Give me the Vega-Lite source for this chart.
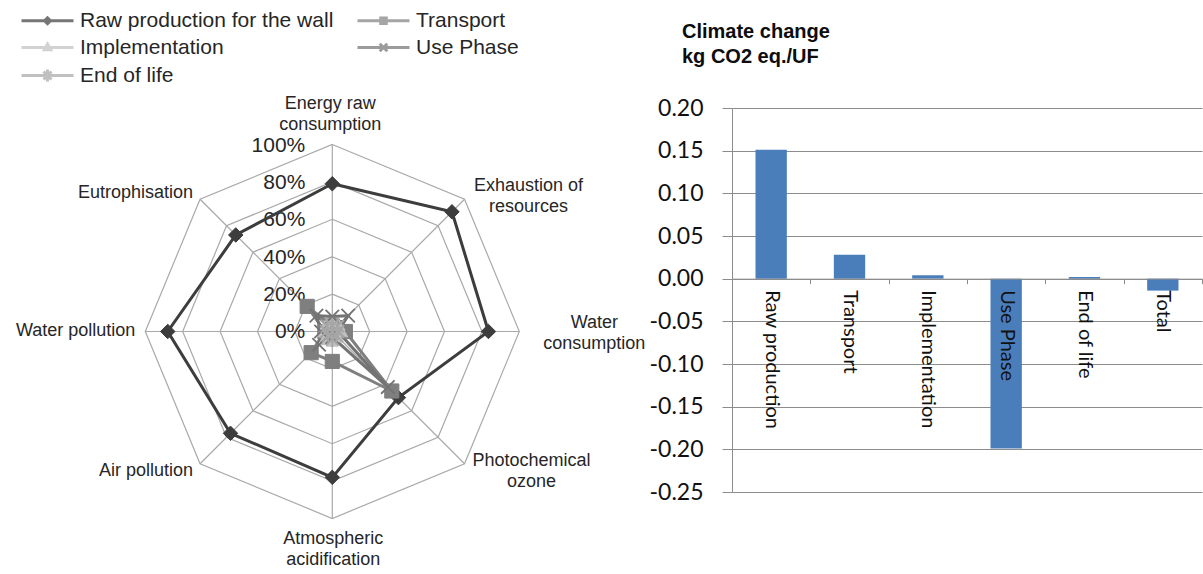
{
  "$schema": "https://vega.github.io/schema/vega-lite/v6.json",
  "background": "white",
  "padding": {"left": 0, "top": 9, "right": 0, "bottom": 0},
  "bounds": "flush",
  "spacing": 112,
  "config": {"view": {"stroke": null}, "font": "Liberation Sans"},
  "datasets": {
    "axes": [
      {"axis": "Energy raw consumption", "label": "Energy raw\nconsumption", "k": 0, "levels": [0.2, 0.4, 0.6, 0.8, 1], "ends": [0, 1]},
      {"axis": "Exhaustion of resources", "label": "Exhaustion of\nresources", "k": 1, "levels": [0.2, 0.4, 0.6, 0.8, 1], "ends": [0, 1]},
      {"axis": "Water consumption", "label": "Water\nconsumption", "k": 2, "levels": [0.2, 0.4, 0.6, 0.8, 1], "ends": [0, 1]},
      {"axis": "Photochemical ozone", "label": "Photochemical\nozone", "k": 3, "levels": [0.2, 0.4, 0.6, 0.8, 1], "ends": [0, 1]},
      {"axis": "Atmospheric acidification", "label": "Atmospheric\nacidification", "k": 4, "levels": [0.2, 0.4, 0.6, 0.8, 1], "ends": [0, 1]},
      {"axis": "Air pollution", "label": "Air pollution", "k": 5, "levels": [0.2, 0.4, 0.6, 0.8, 1], "ends": [0, 1]},
      {"axis": "Water pollution", "label": "Water pollution", "k": 6, "levels": [0.2, 0.4, 0.6, 0.8, 1], "ends": [0, 1]},
      {"axis": "Eutrophisation", "label": "Eutrophisation", "k": 7, "levels": [0.2, 0.4, 0.6, 0.8, 1], "ends": [0, 1]}
    ],
    "pct": [
      {"level": 0, "txt": "0%"},
      {"level": 0.2, "txt": "20%"},
      {"level": 0.4, "txt": "40%"},
      {"level": 0.6, "txt": "60%"},
      {"level": 0.8, "txt": "80%"},
      {"level": 1, "txt": "100%"}
    ],
    "radar": [
      {"series": "Raw production for the wall", "axis": "Energy raw consumption", "value": 0.79},
      {"series": "Raw production for the wall", "axis": "Exhaustion of resources", "value": 0.905},
      {"series": "Raw production for the wall", "axis": "Water consumption", "value": 0.835},
      {"series": "Raw production for the wall", "axis": "Photochemical ozone", "value": 0.5},
      {"series": "Raw production for the wall", "axis": "Atmospheric acidification", "value": 0.78},
      {"series": "Raw production for the wall", "axis": "Air pollution", "value": 0.77},
      {"series": "Raw production for the wall", "axis": "Water pollution", "value": 0.88},
      {"series": "Raw production for the wall", "axis": "Eutrophisation", "value": 0.73},
      {"series": "Transport", "axis": "Energy raw consumption", "value": 0.03},
      {"series": "Transport", "axis": "Exhaustion of resources", "value": 0.03},
      {"series": "Transport", "axis": "Water consumption", "value": 0.07},
      {"series": "Transport", "axis": "Photochemical ozone", "value": 0.45},
      {"series": "Transport", "axis": "Atmospheric acidification", "value": 0.16},
      {"series": "Transport", "axis": "Air pollution", "value": 0.16},
      {"series": "Transport", "axis": "Water pollution", "value": 0.04},
      {"series": "Transport", "axis": "Eutrophisation", "value": 0.19},
      {"series": "Implementation", "axis": "Energy raw consumption", "value": 0.06},
      {"series": "Implementation", "axis": "Exhaustion of resources", "value": 0.05},
      {"series": "Implementation", "axis": "Water consumption", "value": 0.05},
      {"series": "Implementation", "axis": "Photochemical ozone", "value": 0.04},
      {"series": "Implementation", "axis": "Atmospheric acidification", "value": 0.05},
      {"series": "Implementation", "axis": "Air pollution", "value": 0.06},
      {"series": "Implementation", "axis": "Water pollution", "value": 0.05},
      {"series": "Implementation", "axis": "Eutrophisation", "value": 0.05},
      {"series": "Use Phase", "axis": "Energy raw consumption", "value": 0.08},
      {"series": "Use Phase", "axis": "Exhaustion of resources", "value": 0.12},
      {"series": "Use Phase", "axis": "Water consumption", "value": 0.03},
      {"series": "Use Phase", "axis": "Photochemical ozone", "value": 0.42},
      {"series": "Use Phase", "axis": "Atmospheric acidification", "value": 0.03},
      {"series": "Use Phase", "axis": "Air pollution", "value": 0.1},
      {"series": "Use Phase", "axis": "Water pollution", "value": 0.06},
      {"series": "Use Phase", "axis": "Eutrophisation", "value": 0.12},
      {"series": "End of life", "axis": "Energy raw consumption", "value": 0.03},
      {"series": "End of life", "axis": "Exhaustion of resources", "value": 0.04},
      {"series": "End of life", "axis": "Water consumption", "value": 0.03},
      {"series": "End of life", "axis": "Photochemical ozone", "value": 0.03},
      {"series": "End of life", "axis": "Atmospheric acidification", "value": 0.04},
      {"series": "End of life", "axis": "Air pollution", "value": 0.03},
      {"series": "End of life", "axis": "Water pollution", "value": 0.03},
      {"series": "End of life", "axis": "Eutrophisation", "value": 0.04}
    ],
    "bars": [
      {"phase": "Raw production", "value": 0.151},
      {"phase": "Transport", "value": 0.028},
      {"phase": "Implementation", "value": 0.004},
      {"phase": "Use Phase", "value": -0.199},
      {"phase": "End of life", "value": 0.002},
      {"phase": "Total", "value": -0.014}
    ]
  },
  "hconcat": [
    {
      "width": 620,
      "height": 384,
      "layer": [
        {
          "data": {"name": "axes"},
          "transform": [
            {"flatten": ["levels"]},
            {"calculate": "datum.levels*sin(datum.k*PI/4)", "as": "px"},
            {"calculate": "datum.levels*cos(datum.k*PI/4)", "as": "py"}
          ],
          "mark": {"type": "line", "interpolate": "linear-closed", "stroke": "#a9a9a9", "strokeWidth": 1.2},
          "encoding": {
            "x": {"field": "px", "type": "quantitative", "scale": {"domain": [-1.777, 1.5385], "nice": false, "zero": false}, "axis": null},
            "y": {"field": "py", "type": "quantitative", "scale": {"domain": [-0.8583, 1.1952], "nice": false, "zero": false}, "axis": null},
            "detail": {"field": "levels", "type": "ordinal"},
            "order": {"field": "k", "type": "quantitative"}
          }
        },
        {
          "data": {"name": "axes"},
          "transform": [
            {"flatten": ["ends"]},
            {"calculate": "datum.ends*sin(datum.k*PI/4)", "as": "px"},
            {"calculate": "datum.ends*cos(datum.k*PI/4)", "as": "py"}
          ],
          "mark": {"type": "line", "stroke": "#a9a9a9", "strokeWidth": 1.2},
          "encoding": {
            "x": {"field": "px", "type": "quantitative", "scale": {"domain": [-1.777, 1.5385], "nice": false, "zero": false}, "axis": null},
            "y": {"field": "py", "type": "quantitative", "scale": {"domain": [-0.8583, 1.1952], "nice": false, "zero": false}, "axis": null},
            "detail": {"field": "k", "type": "ordinal"},
            "order": {"field": "ends", "type": "quantitative"}
          }
        },
        {
          "data": {"name": "pct"},
          "transform": [{"calculate": "0", "as": "px"}],
          "mark": {"type": "text", "align": "right", "baseline": "middle", "dx": -27, "dy": 1, "fontSize": 21, "color": "#262626", "font": "Liberation Sans"},
          "encoding": {
            "x": {"field": "px", "type": "quantitative", "scale": {"domain": [-1.777, 1.5385], "nice": false, "zero": false}, "axis": null},
            "y": {"field": "level", "type": "quantitative", "scale": {"domain": [-0.8583, 1.1952], "nice": false, "zero": false}, "axis": null},
            "text": {"field": "txt", "type": "nominal"}
          }
        },
        {
          "data": {"name": "radar"},
          "transform": [
            {"lookup": "axis", "from": {"data": {"name": "axes"}, "key": "axis", "fields": ["k"]}},
            {"calculate": "datum.value*sin(datum.k*PI/4)", "as": "px"},
            {"calculate": "datum.value*cos(datum.k*PI/4)", "as": "py"}
          ],
          "mark": {"type": "line", "interpolate": "linear-closed", "strokeWidth": 3},
          "encoding": {
            "x": {"field": "px", "type": "quantitative", "scale": {"domain": [-1.777, 1.5385], "nice": false, "zero": false}, "axis": null},
            "y": {"field": "py", "type": "quantitative", "scale": {"domain": [-0.8583, 1.1952], "nice": false, "zero": false}, "axis": null},
            "order": {"field": "k", "type": "quantitative"},
            "stroke": {
              "field": "series",
              "type": "nominal",
              "scale": {"domain": ["Raw production for the wall", "Transport", "Implementation", "Use Phase", "End of life"], "range": ["#3d3d3d", "#7f7f7f", "#c0c0c0", "#737373", "#a6a6a6"]},
              "legend": {
                "title": null,
                "orient": "none",
                "direction": "horizontal",
                "legendX": 36,
                "legendY": -99,
                "columns": 2,
                "columnPadding": 17,
                "rowPadding": 5,
                "padding": 0,
                "symbolSize": 400,
                "symbolStrokeWidth": 3,
                "symbolOffset": 0,
                "labelOffset": 21,
                "labelFont": "Liberation Sans",
                "labelFontSize": 21,
                "labelColor": "#262626",
                "labelLimit": 0
              }
            }
          }
        },
        {
          "data": {"name": "radar"},
          "transform": [
            {"filter": "false"}
          ],
          "mark": {"type": "point", "filled": true},
          "encoding": {
            "x": {"field": "value", "type": "quantitative", "scale": {"domain": [-1.777, 1.5385], "nice": false, "zero": false}, "axis": null},
            "y": {"field": "value", "type": "quantitative", "scale": {"domain": [-0.8583, 1.1952], "nice": false, "zero": false}, "axis": null},
            "shape": {
              "field": "series",
              "type": "nominal",
              "scale": {"domain": ["Raw production for the wall", "Transport", "Implementation", "Use Phase", "End of life"], "range": [
                "M-2.6,0L2.6,0M-0.3,0L0,-0.3L0.3,0L0,0.3Z",
                "M-2.6,0L2.6,0M-0.28,-0.28L0.28,-0.28L0.28,0.28L-0.28,0.28Z",
                "M-2.6,0L2.6,0M0,-0.35L0.32,0.22L-0.32,0.22Z",
                "M-2.6,0L2.6,0M-0.38,-0.38L0.38,0.38M-0.38,0.38L0.38,-0.38",
                "M-2.6,0L2.6,0M-0.4,-0.4L0.4,0.4M-0.4,0.4L0.4,-0.4M0,-0.6L0,0.6"
              ]}
            },
            "fill": {
              "field": "series",
              "type": "nominal",
              "scale": {"domain": ["Raw production for the wall", "Transport", "Implementation", "Use Phase", "End of life"], "range": ["#3d3d3d", "#7f7f7f", "#c0c0c0", "#737373", "#a6a6a6"]}
            },
            "stroke": {
              "field": "series",
              "type": "nominal",
              "scale": {"domain": ["Raw production for the wall", "Transport", "Implementation", "Use Phase", "End of life"], "range": ["#3d3d3d", "#7f7f7f", "#c0c0c0", "#737373", "#a6a6a6"]}
            }
          }
        },
        {
          "data": {"name": "radar"},
          "transform": [
            {"filter": "datum.series === 'Raw production for the wall'"},
            {"lookup": "axis", "from": {"data": {"name": "axes"}, "key": "axis", "fields": ["k"]}},
            {"calculate": "datum.value*sin(datum.k*PI/4)", "as": "px"},
            {"calculate": "datum.value*cos(datum.k*PI/4)", "as": "py"}
          ],
          "mark": {"type": "point", "shape": "diamond", "filled": true, "fill": "#3d3d3d", "stroke": "#3d3d3d", "strokeWidth": 1, "size": 210, "opacity": 1},
          "encoding": {
            "x": {"field": "px", "type": "quantitative", "scale": {"domain": [-1.777, 1.5385], "nice": false, "zero": false}, "axis": null},
            "y": {"field": "py", "type": "quantitative", "scale": {"domain": [-0.8583, 1.1952], "nice": false, "zero": false}, "axis": null}
          }
        },
        {
          "data": {"name": "radar"},
          "transform": [
            {"filter": "datum.series === 'Transport'"},
            {"lookup": "axis", "from": {"data": {"name": "axes"}, "key": "axis", "fields": ["k"]}},
            {"calculate": "datum.value*sin(datum.k*PI/4)", "as": "px"},
            {"calculate": "datum.value*cos(datum.k*PI/4)", "as": "py"}
          ],
          "mark": {"type": "point", "shape": "square", "filled": true, "fill": "#7f7f7f", "stroke": "#7f7f7f", "strokeWidth": 1, "size": 200, "opacity": 1},
          "encoding": {
            "x": {"field": "px", "type": "quantitative", "scale": {"domain": [-1.777, 1.5385], "nice": false, "zero": false}, "axis": null},
            "y": {"field": "py", "type": "quantitative", "scale": {"domain": [-0.8583, 1.1952], "nice": false, "zero": false}, "axis": null}
          }
        },
        {
          "data": {"name": "radar"},
          "transform": [
            {"filter": "datum.series === 'Implementation'"},
            {"lookup": "axis", "from": {"data": {"name": "axes"}, "key": "axis", "fields": ["k"]}},
            {"calculate": "datum.value*sin(datum.k*PI/4)", "as": "px"},
            {"calculate": "datum.value*cos(datum.k*PI/4)", "as": "py"}
          ],
          "mark": {"type": "point", "shape": "triangle-up", "filled": true, "fill": "#c0c0c0", "stroke": "#c0c0c0", "strokeWidth": 1, "size": 150, "opacity": 1},
          "encoding": {
            "x": {"field": "px", "type": "quantitative", "scale": {"domain": [-1.777, 1.5385], "nice": false, "zero": false}, "axis": null},
            "y": {"field": "py", "type": "quantitative", "scale": {"domain": [-0.8583, 1.1952], "nice": false, "zero": false}, "axis": null}
          }
        },
        {
          "data": {"name": "radar"},
          "transform": [
            {"filter": "datum.series === 'Use Phase'"},
            {"lookup": "axis", "from": {"data": {"name": "axes"}, "key": "axis", "fields": ["k"]}},
            {"calculate": "datum.value*sin(datum.k*PI/4)", "as": "px"},
            {"calculate": "datum.value*cos(datum.k*PI/4)", "as": "py"}
          ],
          "mark": {"type": "point", "shape": "M-1,-1L1,1M-1,1L1,-1", "filled": false, "stroke": "#737373", "strokeWidth": 1.8, "size": 180, "opacity": 1},
          "encoding": {
            "x": {"field": "px", "type": "quantitative", "scale": {"domain": [-1.777, 1.5385], "nice": false, "zero": false}, "axis": null},
            "y": {"field": "py", "type": "quantitative", "scale": {"domain": [-0.8583, 1.1952], "nice": false, "zero": false}, "axis": null}
          }
        },
        {
          "data": {"name": "radar"},
          "transform": [
            {"filter": "datum.series === 'End of life'"},
            {"lookup": "axis", "from": {"data": {"name": "axes"}, "key": "axis", "fields": ["k"]}},
            {"calculate": "datum.value*sin(datum.k*PI/4)", "as": "px"},
            {"calculate": "datum.value*cos(datum.k*PI/4)", "as": "py"}
          ],
          "mark": {"type": "point", "shape": "M-1,-1L1,1M-1,1L1,-1M0,-1.3L0,1.3", "filled": false, "stroke": "#a6a6a6", "strokeWidth": 1.8, "size": 160, "opacity": 1},
          "encoding": {
            "x": {"field": "px", "type": "quantitative", "scale": {"domain": [-1.777, 1.5385], "nice": false, "zero": false}, "axis": null},
            "y": {"field": "py", "type": "quantitative", "scale": {"domain": [-0.8583, 1.1952], "nice": false, "zero": false}, "axis": null}
          }
        },
        {
          "data": {"name": "axes"},
          "transform": [{"filter": "datum.k == 0"}, {"calculate": "sin(datum.k*PI/4)", "as": "px"}, {"calculate": "cos(datum.k*PI/4)", "as": "py"}],
          "mark": {"type": "text", "align": "center", "baseline": "bottom", "dx": -2, "dy": -32, "fontSize": 18, "lineHeight": 21, "lineBreak": "\n", "color": "#262626", "font": "Liberation Sans"},
          "encoding": {
            "x": {"field": "px", "type": "quantitative", "scale": {"domain": [-1.777, 1.5385], "nice": false, "zero": false}, "axis": null},
            "y": {"field": "py", "type": "quantitative", "scale": {"domain": [-0.8583, 1.1952], "nice": false, "zero": false}, "axis": null},
            "text": {"field": "label", "type": "nominal"}
          }
        },
        {
          "data": {"name": "axes"},
          "transform": [{"filter": "datum.k == 1"}, {"calculate": "sin(datum.k*PI/4)", "as": "px"}, {"calculate": "cos(datum.k*PI/4)", "as": "py"}],
          "mark": {"type": "text", "align": "center", "baseline": "middle", "dx": 64, "dy": -13, "fontSize": 18, "lineHeight": 21, "lineBreak": "\n", "color": "#262626", "font": "Liberation Sans"},
          "encoding": {
            "x": {"field": "px", "type": "quantitative", "scale": {"domain": [-1.777, 1.5385], "nice": false, "zero": false}, "axis": null},
            "y": {"field": "py", "type": "quantitative", "scale": {"domain": [-0.8583, 1.1952], "nice": false, "zero": false}, "axis": null},
            "text": {"field": "label", "type": "nominal"}
          }
        },
        {
          "data": {"name": "axes"},
          "transform": [{"filter": "datum.k == 2"}, {"calculate": "sin(datum.k*PI/4)", "as": "px"}, {"calculate": "cos(datum.k*PI/4)", "as": "py"}],
          "mark": {"type": "text", "align": "center", "baseline": "middle", "dx": 75, "dy": -8, "fontSize": 18, "lineHeight": 21, "lineBreak": "\n", "color": "#262626", "font": "Liberation Sans"},
          "encoding": {
            "x": {"field": "px", "type": "quantitative", "scale": {"domain": [-1.777, 1.5385], "nice": false, "zero": false}, "axis": null},
            "y": {"field": "py", "type": "quantitative", "scale": {"domain": [-0.8583, 1.1952], "nice": false, "zero": false}, "axis": null},
            "text": {"field": "label", "type": "nominal"}
          }
        },
        {
          "data": {"name": "axes"},
          "transform": [{"filter": "datum.k == 3"}, {"calculate": "sin(datum.k*PI/4)", "as": "px"}, {"calculate": "cos(datum.k*PI/4)", "as": "py"}],
          "mark": {"type": "text", "align": "center", "baseline": "middle", "dx": 67, "dy": -3, "fontSize": 18, "lineHeight": 21, "lineBreak": "\n", "color": "#262626", "font": "Liberation Sans"},
          "encoding": {
            "x": {"field": "px", "type": "quantitative", "scale": {"domain": [-1.777, 1.5385], "nice": false, "zero": false}, "axis": null},
            "y": {"field": "py", "type": "quantitative", "scale": {"domain": [-0.8583, 1.1952], "nice": false, "zero": false}, "axis": null},
            "text": {"field": "label", "type": "nominal"}
          }
        },
        {
          "data": {"name": "axes"},
          "transform": [{"filter": "datum.k == 4"}, {"calculate": "sin(datum.k*PI/4)", "as": "px"}, {"calculate": "cos(datum.k*PI/4)", "as": "py"}],
          "mark": {"type": "text", "align": "center", "baseline": "top", "dx": 1, "dy": 12, "fontSize": 18, "lineHeight": 21, "lineBreak": "\n", "color": "#262626", "font": "Liberation Sans"},
          "encoding": {
            "x": {"field": "px", "type": "quantitative", "scale": {"domain": [-1.777, 1.5385], "nice": false, "zero": false}, "axis": null},
            "y": {"field": "py", "type": "quantitative", "scale": {"domain": [-0.8583, 1.1952], "nice": false, "zero": false}, "axis": null},
            "text": {"field": "label", "type": "nominal"}
          }
        },
        {
          "data": {"name": "axes"},
          "transform": [{"filter": "datum.k == 5"}, {"calculate": "sin(datum.k*PI/4)", "as": "px"}, {"calculate": "cos(datum.k*PI/4)", "as": "py"}],
          "mark": {"type": "text", "align": "right", "baseline": "middle", "dx": -7, "dy": 7, "fontSize": 18, "color": "#262626", "font": "Liberation Sans"},
          "encoding": {
            "x": {"field": "px", "type": "quantitative", "scale": {"domain": [-1.777, 1.5385], "nice": false, "zero": false}, "axis": null},
            "y": {"field": "py", "type": "quantitative", "scale": {"domain": [-0.8583, 1.1952], "nice": false, "zero": false}, "axis": null},
            "text": {"field": "label", "type": "nominal"}
          }
        },
        {
          "data": {"name": "axes"},
          "transform": [{"filter": "datum.k == 6"}, {"calculate": "sin(datum.k*PI/4)", "as": "px"}, {"calculate": "cos(datum.k*PI/4)", "as": "py"}],
          "mark": {"type": "text", "align": "right", "baseline": "middle", "dx": -10, "dy": 0, "fontSize": 18, "color": "#262626", "font": "Liberation Sans"},
          "encoding": {
            "x": {"field": "px", "type": "quantitative", "scale": {"domain": [-1.777, 1.5385], "nice": false, "zero": false}, "axis": null},
            "y": {"field": "py", "type": "quantitative", "scale": {"domain": [-0.8583, 1.1952], "nice": false, "zero": false}, "axis": null},
            "text": {"field": "label", "type": "nominal"}
          }
        },
        {
          "data": {"name": "axes"},
          "transform": [{"filter": "datum.k == 7"}, {"calculate": "sin(datum.k*PI/4)", "as": "px"}, {"calculate": "cos(datum.k*PI/4)", "as": "py"}],
          "mark": {"type": "text", "align": "right", "baseline": "middle", "dx": -7, "dy": -6, "fontSize": 18, "color": "#262626", "font": "Liberation Sans"},
          "encoding": {
            "x": {"field": "px", "type": "quantitative", "scale": {"domain": [-1.777, 1.5385], "nice": false, "zero": false}, "axis": null},
            "y": {"field": "py", "type": "quantitative", "scale": {"domain": [-0.8583, 1.1952], "nice": false, "zero": false}, "axis": null},
            "text": {"field": "label", "type": "nominal"}
          }
        }
      ]
    },
    {
      "width": 470,
      "height": 384,
      "data": {"name": "bars"},
      "title": {
        "text": ["Climate change", "kg CO2 eq./UF"],
        "anchor": "start",
        "frame": "group",
        "dx": -50,
        "offset": 30,
        "fontSize": 20,
        "fontWeight": "bold",
        "font": "Liberation Sans",
        "lineHeight": 25,
        "color": "#0d0d0d"
      },
      "mark": {"type": "bar", "width": {"band": 0.4}, "color": "#4a7ebb"},
      "encoding": {
        "x": {
          "field": "phase",
          "type": "nominal",
          "sort": null,
          "scale": {"paddingInner": 0, "paddingOuter": 0},
          "axis": {
            "title": null,
            "offset": -213.33,
            "labelAngle": 90,
            "labelAlign": "left",
            "labelBaseline": "middle",
            "labelPadding": 6,
            "labelFont": "Lato",
            "labelFontSize": 20,
            "labelColor": "#111111",
            "labelOverlap": false,
            "labelLimit": 0,
            "tickBand": "extent",
            "tickSize": 5,
            "tickColor": "#8c8c8c",
            "domainColor": "#8c8c8c",
            "grid": false,
            "zindex": 1
          }
        },
        "y": {
          "field": "value",
          "type": "quantitative",
          "scale": {"domain": [-0.25, 0.2], "nice": false},
          "axis": {
            "title": null,
            "values": [0.2, 0.15, 0.1, 0.05, 0, -0.05, -0.1, -0.15, -0.2, -0.25],
            "labelExpr": "replace(format(datum.value, '.2f'), '\u2212', '-')",
            "grid": true,
            "gridColor": "#8c8c8c",
            "domainColor": "#8c8c8c",
            "tickColor": "#8c8c8c",
            "tickSize": 10,
            "labelPadding": 19,
            "labelFont": "Lato",
            "labelFontSize": 23,
            "labelColor": "#111111"
          }
        }
      }
    }
  ]
}
